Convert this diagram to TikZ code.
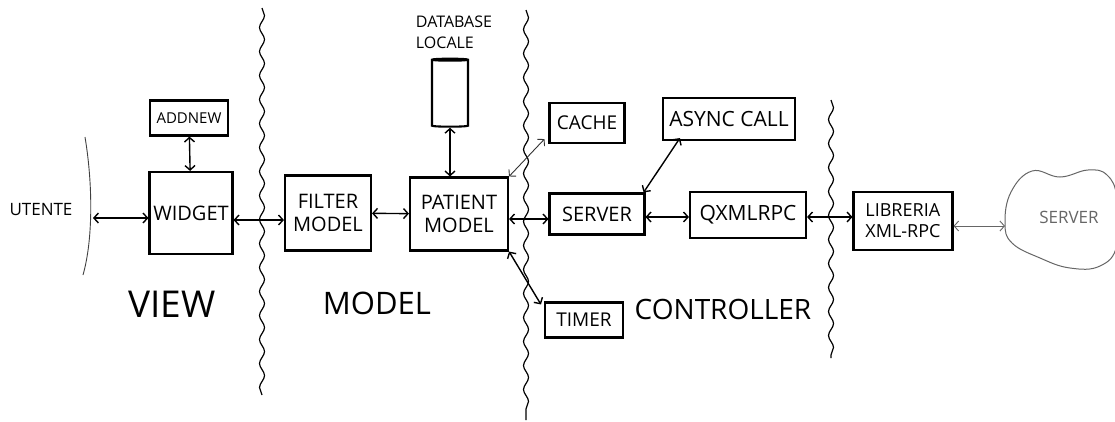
\documentclass[tikz,border=0pt]{standalone}
\usepackage{fontspec}
\setmainfont{Open Sans}
\usetikzlibrary{positioning, arrows.meta, shapes.geometric, decorations.pathmorphing}

\begin{document}
\begin{tikzpicture}[x=1pt, y=-1pt,
      sketchbox/.style={draw, line width=2.1pt, align=center, inner sep=2pt, font=\fontsize{20}{23}\selectfont},
      layername/.style={font=\fontsize{#1}{#1}\selectfont},
      divider/.style={line width=1.2pt, decorate, decoration={snake, amplitude=2.5pt, segment length=24pt}},
      link/.style={{Straight Barb[length=4.5pt,width=10pt]}-{Straight Barb[length=4.5pt,width=10pt]}, line width=1.4pt},
      thinlink/.style={link, line width=0.9pt, black!80}
    ]
      \useasboundingbox (0,0) rectangle (1115,421);

      \node[sketchbox, minimum width=83pt, minimum height=82pt] (widget) at (191,213) {WIDGET};
      \node[sketchbox, minimum width=78pt, minimum height=35pt, font=\fontsize{15}{18}\selectfont] (addnew) at (189,118) {ADDNEW};
      \node[sketchbox, minimum width=86pt, minimum height=75pt] (filter) at (328,213) {FILTER\\MODEL};
      \node[sketchbox, minimum width=98pt, minimum height=73pt] (patient) at (459,214) {PATIENT\\MODEL};
      \node[draw, line width=2.1pt, cylinder, shape border rotate=90, aspect=0.3, minimum width=36pt, minimum height=68pt] (db) at (450,94) {};
      \node[font=\fontsize{16}{21}\selectfont, align=left] (dblabel) at (454,32) {DATABASE\\LOCALE};
      \node[sketchbox, minimum width=75pt, minimum height=40pt, font=\fontsize{19}{22}\selectfont] (cache) at (587,123) {CACHE};
      \node[sketchbox, minimum width=132pt, minimum height=42pt, font=\fontsize{21}{24}\selectfont] (async) at (729,119) {ASYNC CALL};
      \node[sketchbox, minimum width=95pt, minimum height=41pt] (server) at (597,214) {SERVER};
      \node[sketchbox, minimum width=116pt, minimum height=46pt, font=\fontsize{21}{24}\selectfont] (qxml) at (748,215) {QXMLRPC};
      \node[sketchbox, minimum width=78pt, minimum height=35pt, font=\fontsize{19}{22}\selectfont] (timer) at (584,320) {TIMER};
      \node[sketchbox, minimum width=99pt, minimum height=58pt, align=left, font=\fontsize{18}{21}\selectfont] (libreria) at (903,221) {LIBRERIA\\XML-RPC};

      \draw[black!60, line width=1pt] plot[smooth cycle, tension=0.7] coordinates {(1005,223) (1011,192) (1032,171) (1060,177) (1088,170) (1107,175) (1117,198) (1117,245) (1100,266) (1070,268) (1040,258) (1012,243)};
      \node[text=black!60, font=\fontsize{17}{20}\selectfont] (remote) at (1069,217) {SERVER};
      \coordinate (remoteedge) at (1005,226);

      \node[font=\fontsize{17}{20}\selectfont] (utente) at (41,210) {UTENTE};
      \node[layername=37] (view) at (172,304) {VIEW};
      \node[layername=31] (model) at (377,303) {MODEL};
      \node[layername=28] (controller) at (723,309) {CONTROLLER};

      \draw[black!75, line width=0.9pt] (85,137) .. controls (93,185) and (93,240) .. (83,275);
      \coordinate (edge) at (93,218);
      \draw[divider] (262,8) -- (262,395);
      \draw[divider] (526,10) -- (526,420);
      \draw[divider] (831,100) -- (831,358);

      \draw[link] (edge) -- (edge -| widget.west);
      \draw[link] (addnew) -- (widget);
      \draw[link] (widget.east |- 0,220) -- (filter.west |- 0,220);
      \draw[link] (filter) -- (patient);
      \draw[link] (db.bottom) -- (db.bottom |- patient.north);
      \draw[thinlink] (patient.north east) -- ([xshift=-4pt, yshift=5pt]cache.south west);
      \draw[link] (patient.east |- 0,219) -- (server.west |- 0,219);
      \draw[link] ([xshift=-2pt]server.north east) -- ([xshift=18pt, yshift=3pt]async.south west);
      \draw[link] (server.east |- 0,217) -- (qxml.west |- 0,217);
      \draw[link] (qxml.east |- 0,217) -- (libreria.west |- 0,217);
      \draw[link] (patient.south east) -- ([xshift=-3pt, yshift=-3pt]timer.north west);
      \draw[thinlink, black!60] (libreria.east |- remoteedge) -- (remoteedge);
    \end{tikzpicture}
\end{document}
